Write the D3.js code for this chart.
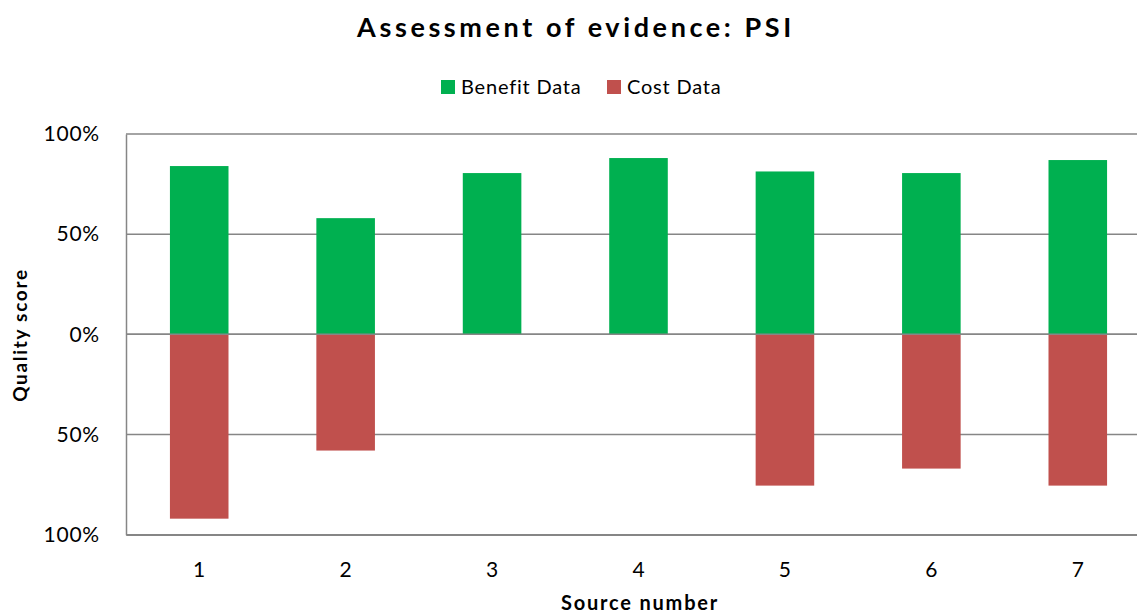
<!DOCTYPE html>
<html><head><meta charset="utf-8">
<script src="https://cdn.jsdelivr.net/npm/d3@7"></script>
<style>body{margin:0;background:#fff;} svg{display:block;}</style>
</head><body>
<svg id="c" width="1137" height="615"></svg>
<script>
const categories = ["1","2","3","4","5","6","7"];
const benefit = [0.84, 0.58, 0.805, 0.88, 0.813, 0.805, 0.87];
const cost = [0.92, 0.58, 0, 0, 0.755, 0.67, 0.755];
const yTicks = [1, 0.5, 0, -0.5, -1];
const seriesNames = ["Benefit Data", "Cost Data"];
const colors = ["#00B050", "#C0504D"];

const svg = d3.select("#c");
const font = "Lato, 'Open Sans', sans-serif";
const x = d3.scaleBand().domain(categories).range([126, 1151]).paddingInner(0.6).paddingOuter(0.3);
const y = d3.scaleLinear().domain([-1, 1]).range([534.7, 134]);

// gridlines
svg.append("g").selectAll("line").data(yTicks).join("line")
  .attr("x1", 126).attr("x2", 1137)
  .attr("y1", d => y(d)).attr("y2", d => y(d))
  .attr("stroke", "#868686").attr("stroke-width", 1.5);

// bars
svg.append("g").selectAll("rect").data(benefit).join("rect")
  .attr("x", (d,i) => x(categories[i])).attr("width", x.bandwidth())
  .attr("y", d => y(d)).attr("height", d => y(0) - y(d))
  .attr("fill", colors[0]);
svg.append("g").selectAll("rect").data(cost).join("rect")
  .attr("x", (d,i) => x(categories[i])).attr("width", x.bandwidth())
  .attr("y", y(0)).attr("height", d => y(-d) - y(0))
  .attr("fill", colors[1]);

// zero line on top
svg.append("line").attr("x1",126).attr("x2",1137).attr("y1",y(0)).attr("y2",y(0))
  .attr("stroke","#868686").attr("stroke-width",1.5);

// y axis
const ya = d3.axisLeft(y).tickValues(yTicks).tickSize(0).tickPadding(26)
  .tickFormat(d => Math.round(Math.abs(d)*100) + "%");
const yg = svg.append("g").attr("transform","translate(126,0)").call(ya);
yg.select(".domain").attr("stroke","#868686").attr("stroke-width",1.5);
yg.selectAll("text").attr("font-family",font).attr("font-size",21).attr("letter-spacing","0.8px").attr("fill","#000");

// x axis
const xa = d3.axisBottom(x).tickSize(0).tickPadding(0);
const xg = svg.append("g").attr("transform",`translate(0,${y(-1)})`).call(xa);
xg.select(".domain").attr("stroke","#868686").attr("stroke-width",1.5);
xg.selectAll("text").attr("dy", null).attr("y", 42).attr("font-family",font).attr("font-size",21).attr("fill","#000");

// title
svg.append("text").attr("x", 576).attr("y", 37).attr("text-anchor","middle")
  .attr("font-family",font).attr("font-weight","bold").attr("font-size",27)
  .attr("letter-spacing","3.6px").text("Assessment of evidence: PSI");

// legend
const leg = svg.append("g");
const lx = [441, 607];
seriesNames.forEach((n,i) => {
  leg.append("rect").attr("x", lx[i]).attr("y", 80).attr("width", 14).attr("height", 14).attr("fill", colors[i]);
  leg.append("text").attr("x", lx[i]+20).attr("y", 94).attr("font-family",font).attr("font-size",20)
    .attr("letter-spacing","0.8px").text(n);
});

// axis titles
svg.append("text").attr("transform","translate(27,335) rotate(-90)").attr("text-anchor","middle")
  .attr("font-family",font).attr("font-weight","bold").attr("font-size",19)
  .attr("letter-spacing","1.7px").text("Quality score");
svg.append("text").attr("x",640).attr("y",610).attr("text-anchor","middle")
  .attr("font-family",font).attr("font-weight","bold").attr("font-size",20)
  .attr("letter-spacing","1.8px").text("Source number");
</script>
</body></html>
